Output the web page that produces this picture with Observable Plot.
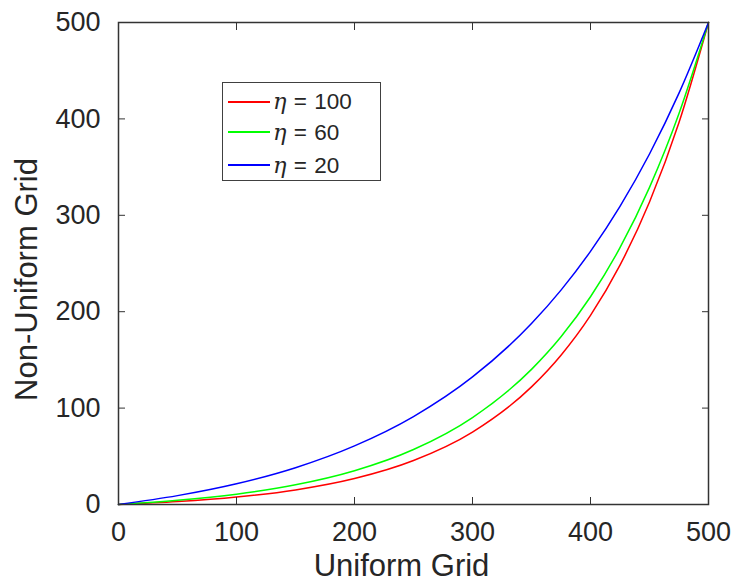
<!DOCTYPE html>
<html><head><meta charset="utf-8">
<script src="https://cdn.jsdelivr.net/npm/d3@7"></script>
<script src="https://cdn.jsdelivr.net/npm/@observablehq/plot@0.6"></script>
<style>
body{margin:0;background:#fff;}
#wrap{position:relative;width:731px;height:583px;font-family:"Liberation Sans",Arial,sans-serif;}
#legend{position:absolute;left:222px;top:82px;width:157px;height:97px;border:1.5px solid #404040;background:#fff;}
.row{position:absolute;left:5px;height:30px;display:flex;align-items:center;white-space:nowrap;}
.swatch{width:42px;height:2px;}
.lab{font-size:22.5px;color:#262626;margin-left:3px;word-spacing:1px;}
.eta{font-family:"DejaVu Serif","Liberation Serif",serif;font-style:italic;}
</style></head>
<body><div id="wrap"></div>
<script>
// Data
const xs     = [0, 50, 100, 150, 200, 250, 300, 350, 375, 400, 425, 450, 475, 500];
const eta100 = [0, 3.0, 7.7, 15.1, 26.9, 45.6, 75.1, 122.0, 154.9, 196.2, 248.3, 313.8, 396.2, 500];
const eta60  = [0, 4.3, 10.7, 20.4, 35.0, 57.0, 90.2, 140.2, 174.0, 215.5, 266.4, 329.0, 405.6, 500];
const eta20  = [0, 9.2, 21.5, 38.2, 60.8, 91.2, 132.3, 187.7, 222.4, 262.6, 309.3, 363.6, 426.7, 500];
const seriesNames  = ["100", "60", "20"];
const seriesColors = ["#ff0000", "#00ff00", "#0000ff"];
const xTicks = [0, 100, 200, 300, 400, 500];
const yTicks = [0, 100, 200, 300, 400, 500];
const xTitle = "Uniform Grid";
const yTitle = "Non-Uniform Grid";

const seriesValues = [eta100, eta60, eta20];
const rows = seriesValues.map(vals => xs.map((x, i) => ({x, y: vals[i]})));

const font = '"Liberation Sans", Arial, sans-serif';
const ink = "#262626";

const chart = Plot.plot({
  width: 731,
  height: 583,
  marginLeft: 118,
  marginRight: 23,
  marginTop: 22,
  marginBottom: 79,
  x: {domain: [0, 500]},
  y: {domain: [0, 500]},
  style: {fontFamily: font, fontSize: "27px", color: ink, background: "white"},
  marks: [
    ...rows.map((r, i) => Plot.line(r, {x: "x", y: "y", stroke: seriesColors[i], strokeWidth: 1.5, curve: "monotone-x"})),
    Plot.axisX({ticks: xTicks, tickSize: -7, tickPadding: 24, label: null, stroke: "#333", fill: ink}),
    Plot.axisX({anchor: "top", ticks: xTicks, tickSize: -7, tickFormat: () => "", label: null, stroke: "#333"}),
    Plot.axisY({ticks: yTicks, tickSize: -7, tickPadding: 25, label: null, stroke: "#333", fill: ink}),
    Plot.axisY({anchor: "right", ticks: yTicks, tickSize: -7, tickFormat: () => "", label: null, stroke: "#333"}),
    Plot.frame({stroke: "#333", strokeWidth: 1.5}),
    Plot.text([xTitle], {frameAnchor: "bottom", textAnchor: "middle", lineAnchor: "middle", dy: 62, dx: -12, fontSize: 31, fill: ink}),
    Plot.text([yTitle], {frameAnchor: "left", textAnchor: "middle", rotate: -90, dx: -91, dy: 16, fontSize: 31, fill: ink})
  ]
});

const wrap = document.getElementById("wrap");
wrap.appendChild(chart);

// Legend
const legend = document.createElement("div");
legend.id = "legend";
const rowTops = [3.5, 34, 67];
seriesNames.forEach((name, i) => {
  const row = document.createElement("div");
  row.className = "row";
  row.style.top = rowTops[i] + "px";
  const sw = document.createElement("span");
  sw.className = "swatch";
  sw.style.background = seriesColors[i];
  const lab = document.createElement("span");
  lab.className = "lab";
  lab.innerHTML = '<span class="eta">η</span> = ' + name;
  row.appendChild(sw);
  row.appendChild(lab);
  legend.appendChild(row);
});
wrap.appendChild(legend);
</script>
</body></html>
